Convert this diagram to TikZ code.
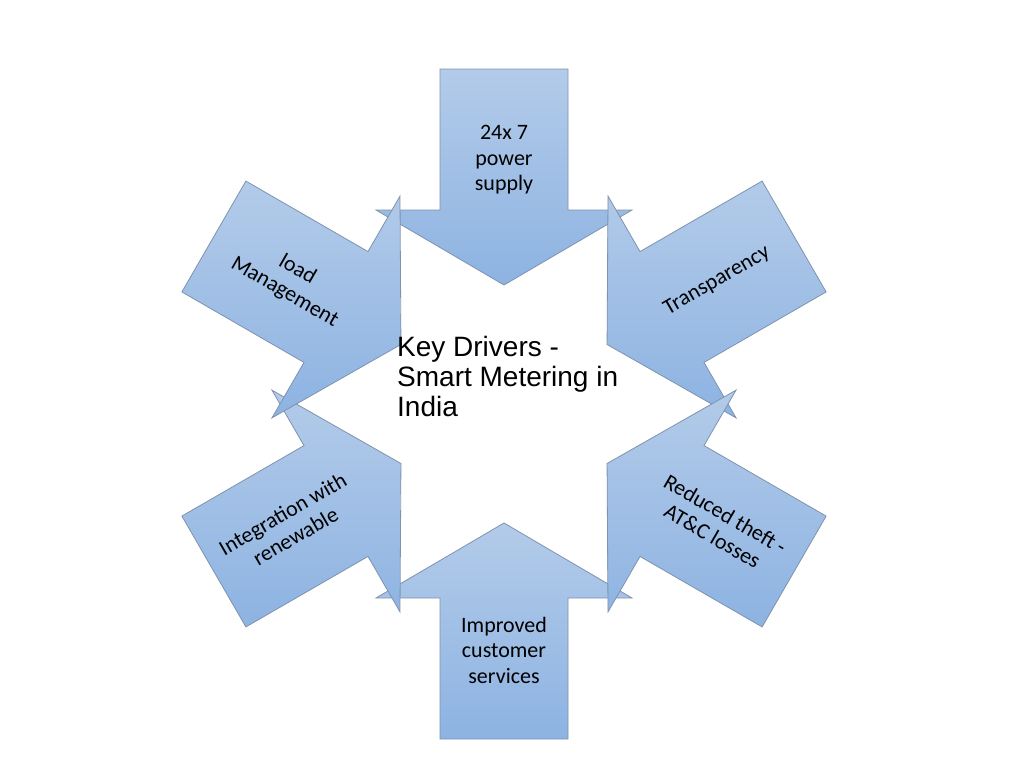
\documentclass[tikz,border=0pt]{standalone}
\usepackage{fontspec}
\setmainfont{Carlito}
\newfontfamily\arialfont{Liberation Sans}
\usetikzlibrary{calc}
\definecolor{arrowtop}{HTML}{B3CBE9}
\definecolor{arrowbot}{HTML}{8DB3E2}
\definecolor{arrowline}{HTML}{7F92AE}
\tikzset{
  bigarrow/.style={draw=arrowline, line width=0.8pt, top color=arrowtop, bottom color=arrowbot, line join=miter},
  lbl/.style={font=\fontsize{22}{25.5}\selectfont, align=center, inner sep=0pt, text=black},
  keytext/.style={font=\arialfont\fontsize{28}{30}\selectfont, align=left, inner sep=0pt, anchor=north west, text=black}
}
\begin{document}
\begin{tikzpicture}[x=1pt,y=-1pt]
\fill[white] (0,0) rectangle (1024,768);
\path[use as bounding box] (0,0) rectangle (1024,768);
\coordinate (C) at (504,404);
\foreach \a in {90,270,330,30,150,210}{
  \draw[bigarrow] ($(C)+(\a:119)$) -- ($(C)+(\a:194)+(\a+90:128)$) -- ($(C)+(\a:194)+(\a+90:64)$) -- ($(C)+(\a:335)+(\a+90:64)$) -- ($(C)+(\a:335)+(\a-90:64)$) -- ($(C)+(\a:194)+(\a-90:64)$) -- ($(C)+(\a:194)+(\a-90:128)$) -- cycle;
}
\node[lbl] (supply) at (504,160) {24x 7\\power\\supply};
\node[lbl] (services) at (504,650) {Improved\\customer\\services};
\node[lbl, rotate=-30] (load) at (291,281) {load\\Management};
\node[lbl, rotate=30] (transp) at (717,281) {Transparency};
\node[lbl, rotate=30] (integ) at (289,525) {Integration with\\renewable};
\node[lbl, rotate=-30] (theft) at (719,525) {Reduced theft -\\AT\&C losses};
\node[keytext] (key) at (397,336) {Key Drivers -\\Smart Metering in\\India};
\end{tikzpicture}
\end{document}
